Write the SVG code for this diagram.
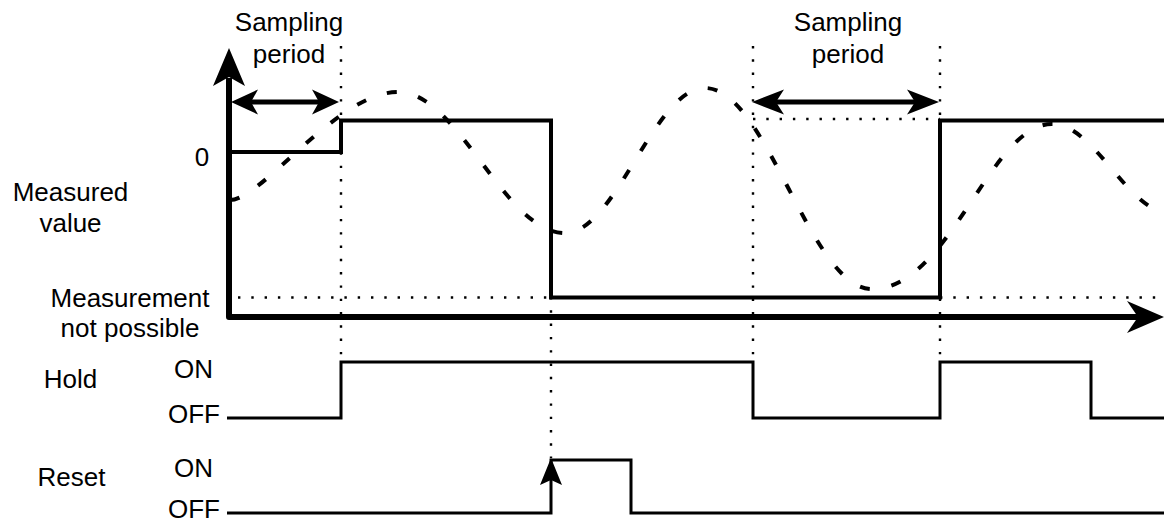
<svg xmlns="http://www.w3.org/2000/svg" width="1164" height="522" viewBox="0 0 1164 522">
<style>
text{font-family:"Liberation Sans",Arial,sans-serif;font-size:26px;fill:#000;text-anchor:middle}
.dot{fill:none;stroke:#000;stroke-width:2.4;stroke-dasharray:2.4 10.9}
.axis{fill:none;stroke:#000;stroke-width:6;stroke-linejoin:round}
.step{fill:none;stroke:#000;stroke-width:4;stroke-linejoin:miter}
.sig{fill:none;stroke:#000;stroke-width:3;stroke-linejoin:miter}
.wave{fill:none;stroke:#000;stroke-width:4;stroke-dasharray:10 22}
.dim{fill:none;stroke:#000;stroke-width:5}
.head{fill:#000;stroke:none}
</style>
<rect width="1164" height="522" fill="#fff"/>
<g id="guides">
<path class="dot" d="M341,46 V362 M551,297 V458 M753,46 V362 M940,46 V362"/>
<path class="dot" d="M238,297.5 H551 M940,297.5 H1164 M753,119 H940"/>
</g>
<g id="measured-wave">
<path class="wave" d="M230,200 C262,200 337,92 398,92 C459,92 504,233 565,233 C616,233 654,88 705,88 C767,88 810,289 872,289 C950,289 990,124 1052,124 C1095,124 1128,213 1170,213"/>
</g>
<g id="axes">
<path class="axis" d="M229,78 V317 H1140"/>
<polygon class="head" points="229,48 245,86 229,77 213,86"/>
<polygon class="head" points="1164,317 1127,333 1138,317 1127,301"/>
</g>
<g id="measured-value">
<path class="step" d="M231,152 H341 V120.5 H551 V297.5 H940 V120.5 H1164"/>
</g>
<g id="sampling-period-1">
<path class="dim" d="M248,102 H322"/>
<polygon class="head" points="231,102 258,89.5 251,102 258,114.5"/>
<polygon class="head" points="339,102 312,89.5 319,102 312,114.5"/>
<text x="289" y="31">Sampling</text>
<text x="289" y="62.5">period</text>
</g>
<g id="sampling-period-2">
<path class="dim" d="M772,102 H920"/>
<polygon class="head" points="752,102 784,89.5 776,102 784,114.5"/>
<polygon class="head" points="939,102 907,89.5 915,102 907,114.5"/>
<text x="848" y="31">Sampling</text>
<text x="848" y="62.5">period</text>
</g>
<g id="hold">
<path class="sig" d="M227,418 H341 V362 H753 V418 H940 V362 H1091 V418 H1164"/>
</g>
<g id="reset">
<path class="sig" d="M227,513 H551 V460 H631 V513 H1164"/>
<polygon class="head" points="551,458 562,485 551,480 540,485"/>
</g>
<g id="labels">
<text x="202" y="166">0</text>
<text x="70.5" y="201">Measured</text>
<text x="70.5" y="232">value</text>
<text x="130" y="306.5">Measurement</text>
<text x="130" y="337">not possible</text>
<text x="70.5" y="388">Hold</text>
<text x="71.5" y="486">Reset</text>
<text x="193.5" y="377.5">ON</text>
<text x="194" y="422.5">OFF</text>
<text x="193.5" y="476.5">ON</text>
<text x="194" y="518">OFF</text>
</g>
</svg>
